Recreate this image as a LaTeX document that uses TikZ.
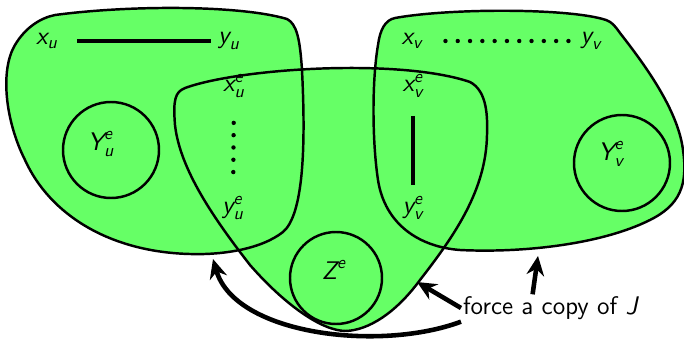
\documentclass[tikz,border=0pt]{standalone}
\usepackage{amsmath}
\usepackage{tikz}
\usetikzlibrary{arrows.meta}
\definecolor{blobgreen}{HTML}{66FF66}
\newcommand{\sv}[1]{\textsl{#1}}

\begin{document}
\begin{tikzpicture}[x=0.02cm,y=-0.02cm,>={Stealth[length=11pt,width=10pt]},
  lbl/.style={inner sep=1pt,font=\fontsize{14.5}{16}\selectfont\sffamily},
  blob/.style={line width=1.4pt},
  dots/.style={line width=2.5pt,line cap=round,dash pattern=on 0pt off 7pt},
  pointer/.style={->,line width=2.6pt}]
\useasboundingbox (0,0) rectangle (684,342);
% the three sets
\def\blobu{(55,15) .. controls (130,5) and (240,5) .. (287,19)
  .. controls (297,24) and (300,40) .. (302,70)
  .. controls (306,150) and (303,215) .. (283,232)
  .. controls (260,250) and (220,255) .. (190,254)
  .. controls (110,252) and (50,215) .. (25,160)
  .. controls (5,120) and (0,70) .. (15,45)
  .. controls (25,28) and (40,18) .. (55,15) -- cycle}
\def\blobe{(185,88) .. controls (240,68) and (400,58) .. (470,82)
  .. controls (485,90) and (488,110) .. (487,135)
  .. controls (486,190) and (455,235) .. (420,280)
  .. controls (395,314) and (368,330) .. (346,331)
  .. controls (322,331) and (285,305) .. (250,265)
  .. controls (215,220) and (180,170) .. (175,125)
  .. controls (173,100) and (175,92) .. (185,88) -- cycle}
\def\blobv{(395,18) .. controls (450,8) and (570,8) .. (606,20)
  .. controls (612,22) and (615,26) .. (620,33)
  .. controls (645,65) and (678,110) .. (683,150)
  .. controls (688,185) and (680,205) .. (650,220)
  .. controls (600,245) and (520,253) .. (460,250)
  .. controls (420,247) and (385,225) .. (378,180)
  .. controls (372,140) and (372,80) .. (378,45)
  .. controls (380,30) and (385,20) .. (395,18) -- cycle}
\fill[blobgreen] \blobu;
\fill[blobgreen] \blobe;
\fill[blobgreen] \blobv;
\draw[blob] \blobu;
\draw[blob] \blobe;
\draw[blob] \blobv;
\draw[blob] (111,150) circle (48);
\draw[blob] (622,163) circle (48);
\draw[blob] (336,278) circle (46);
% labels
\node[lbl] (xu) at (47,41) {$\sv{x}_{\sv{u}}$};
\node[lbl] (yu) at (229,41) {$\sv{y}_{\sv{u}}$};
\node[lbl] (xv) at (412,41) {$\sv{x}_{\sv{v}}$};
\node[lbl] (yv) at (591,41) {$\sv{y}_{\sv{v}}$};
\node[lbl] (xue) at (234,86) {$\sv{x}_{\sv{u}}^{\sv{e}}$};
\node[lbl] (yue) at (233,208) {$\sv{y}_{\sv{u}}^{\sv{e}}$};
\node[lbl] (xve) at (413,86) {$\sv{x}_{\sv{v}}^{\sv{e}}$};
\node[lbl] (yve) at (413,208) {$\sv{y}_{\sv{v}}^{\sv{e}}$};
\node[lbl] (Yue) at (101,144) {$\sv{Y}_{\sv{u}}^{\sv{e}}$};
\node[lbl] (Yve) at (611,154) {$\sv{Y}_{\sv{v}}^{\sv{e}}$};
\node[lbl] (Ze) at (334,270) {$\sv{Z}^{\sv{e}}$};
\draw[line width=2.3pt,shorten <=10pt,shorten >=3pt] (xu) -- (yu);
\draw[dots,shorten <=12pt,shorten >=4pt] (xv) -- (yv);
\draw[dots,shorten <=13pt,shorten >=7pt] (xue) -- (yue);
\draw[line width=2.3pt,shorten <=9pt,shorten >=5pt] (xve) -- (yve);
% the note and its arrows
\node[lbl,anchor=west] (force) at (461,308) {force a copy of $\sv{J}$};
\coordinate (tipe) at (417,282);
\coordinate (tipv) at (538,256);
\coordinate (tipu) at (213,259);
\draw[pointer] (force.west) -- (tipe);
\draw[pointer] ([xshift=-10]force.north) -- (tipv);
\draw[pointer] (force.south west) .. controls (380,352) and (235,335) .. (tipu);
\end{tikzpicture}
\end{document}
